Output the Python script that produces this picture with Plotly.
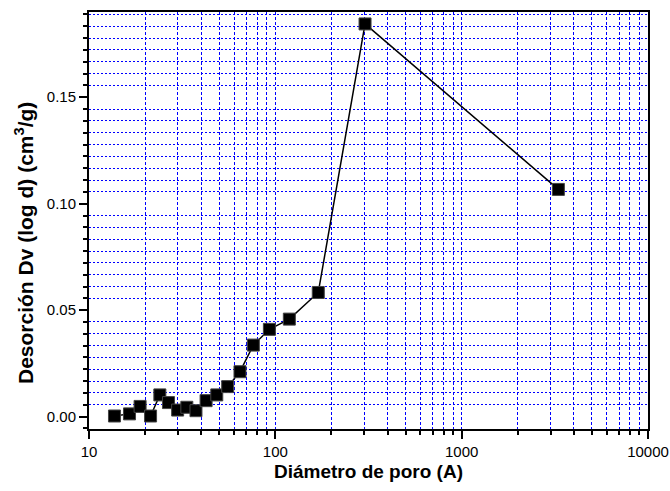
import plotly.graph_objects as go

diametro = [13.7, 16.5, 18.8, 21.4, 24.0, 26.7, 29.9, 33.5, 37.5, 42.5, 48.5, 55.5,
            64.6, 76.2, 92.9, 118.9, 170, 303, 3304]
desorcion = [0.0003, 0.0013, 0.0048, 0.0003, 0.0102, 0.0066, 0.0031, 0.0044, 0.0028,
             0.0075, 0.0102, 0.0141, 0.0211, 0.0336, 0.0410, 0.0458, 0.0583, 0.1844, 0.1067]

x_title = "Diámetro de poro (A)"
y_title = "Desorción Dv (log d) (cm<sup>3</sup>/g)"

fig = go.Figure()
fig.add_trace(go.Scatter(
    x=diametro, y=desorcion, mode="lines+markers",
    line=dict(color="black", width=1.5),
    marker=dict(symbol="square", size=12, color="black",
                line=dict(color="#444444", width=1)),
    showlegend=False,
))

font_family = "Liberation Sans, Arial, sans-serif"
grid_blue = "rgb(0,0,255)"

fig.update_layout(
    width=670, height=491,
    margin=dict(l=89, r=22, t=12, b=62, autoexpand=False),
    paper_bgcolor="white", plot_bgcolor="white",
    font=dict(family=font_family, size=15, color="black"),
)

fig.update_xaxes(
    type="log", range=[0.99995, 4.00005],
    tickvals=[10, 100, 1000, 10000], ticktext=["10", "100", "1000", "10000"],
    automargin=False,
    showgrid=False, zeroline=False,
    showline=True, linecolor="black", linewidth=2, mirror=True,
    ticks="outside", ticklen=8, tickwidth=1.5, tickcolor="black",
    tickfont=dict(size=15),
    minor=dict(dtick="D1", ticks="outside", ticklen=4, tickwidth=1.5, tickcolor="black",
               showgrid=True, gridcolor=grid_blue, griddash="3px,2px", gridwidth=1),
    title=dict(text=x_title, font=dict(size=19, family=font_family, weight="bold"), standoff=6),
)

fig.update_yaxes(
    range=[-0.0058, 0.19], tick0=0, dtick=0.05, tickformat=".2f",
    automargin=False,
    showgrid=False, zeroline=False,
    showline=True, linecolor="black", linewidth=2, mirror=True,
    ticks="outside", ticklen=8, tickwidth=1.5, tickcolor="black",
    tickfont=dict(size=15),
    minor=dict(tick0=0, dtick=0.05 / 9, ticks="outside", ticklen=4, tickwidth=1.5, tickcolor="black",
               showgrid=True, gridcolor=grid_blue, griddash="2px,2px", gridwidth=1),
)

fig.add_annotation(
    text=y_title, textangle=-90, showarrow=False,
    xref="paper", yref="paper", x=-0.1163, y=0.446,
    xanchor="center", yanchor="middle",
    font=dict(size=21, family=font_family, weight="bold", color="black"),
)

fig.write_html(
    "out.html",
    config={"displayModeBar": False},
    post_script="document.body.style.margin='0';document.body.style.overflow='hidden';",
)
